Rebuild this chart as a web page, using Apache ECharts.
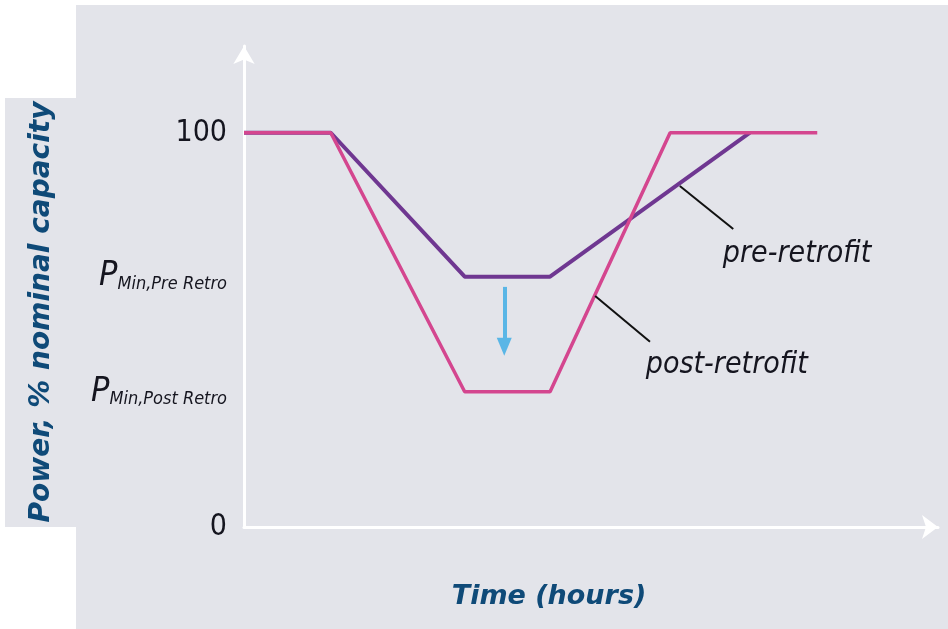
<!DOCTYPE html>
<html><head><meta charset="utf-8">
<script src="https://cdn.jsdelivr.net/npm/echarts@6/dist/echarts.min.js"></script>
<style>html,body{margin:0;padding:0;background:#fff}#c{width:948px;height:629px}</style>
</head><body><div id="c"></div>
<script>
// ---- data ----
const preTime = [0, 12.5, 31.8, 44.1, 72.9];
const prePower = [100, 100, 63.5, 63.5, 100];
const postTime = [0, 12.5, 31.8, 44.1, 61.4, 82.6];
const postPower = [100, 100, 34.3, 34.3, 100, 100];
const yTickValues = [0, 34.3, 63.5, 100];
const yTickMain = ['0', 'P', 'P', '100'];
const yTickSub = ['', 'Min,Post Retro', 'Min,Pre Retro', ''];
const seriesNames = ['pre-retrofit', 'post-retrofit'];
const labelPos = [[69.0, 69.3], [57.9, 41.1]];
const pointerLines = [[[62.8, 86.5], [70.5, 75.6]], [[50.6, 58.6], [58.5, 47.0]]];
const shiftArrow = [[37.5, 60.9], [37.5, 45.7]];
const yTitle = 'Power, % nominal capacity';
const xTitle = 'Time (hours)';

const chart = echarts.init(document.getElementById('c'));
const cond = '"Liberation Sans Narrow","DejaVu Sans Condensed","Roboto Condensed",sans-serif';
const pink = '#d4468f', purple = '#6f3791', navy = '#0f4a78', ink = '#15151f';
const zip = (a, b) => a.map((v, i) => [v, b[i]]);

chart.setOption({
  backgroundColor: '#ffffff',
  animation: false,
  graphic: [
    { type: 'rect', z: -10, shape: { x: 76, y: 5, width: 872, height: 624 }, style: { fill: '#e3e4ea' } },
    { type: 'rect', z: -10, shape: { x: 5, y: 98, width: 71, height: 429 }, style: { fill: '#e3e4ea' } },
    { type: 'text', x: 42, y: 312, rotation: Math.PI / 2,
      style: { text: yTitle, fill: navy, font: 'italic bold 28px "DejaVu Sans",sans-serif', align: 'center', verticalAlign: 'middle' } },
    { type: 'text', x: 549, y: 597,
      style: { text: xTitle, fill: navy, font: 'italic bold 27px "DejaVu Sans",sans-serif', align: 'center', verticalAlign: 'middle' } }
  ],
  grid: { left: 244, right: 10, top: 46, bottom: 102, containLabel: false },
  xAxis: {
    type: 'value', min: 0, max: 100,
    axisLine: { show: true, symbol: ['none', 'arrow'], symbolSize: [18, 16], lineStyle: { color: '#ffffff', width: 3 } },
    axisTick: { show: false }, axisLabel: { show: false }, splitLine: { show: false }
  },
  yAxis: {
    type: 'value', min: 0, max: 122,
    axisLine: { show: true, symbol: ['none', 'arrow'], symbolSize: [16, 18], lineStyle: { color: '#ffffff', width: 3 } },
    axisTick: { show: false }, splitLine: { show: false },
    axisLabel: {
      show: true, margin: 17, customValues: yTickValues,
      formatter: function (v) {
        const i = yTickValues.indexOf(v);
        if (i < 0) return '';
        return yTickSub[i] ? '{p|' + yTickMain[i] + '}{s|' + yTickSub[i] + '}' : '{n|' + yTickMain[i] + '}';
      },
      rich: {
        n: { fontFamily: cond, fontSize: 30, color: ink },
        p: { fontFamily: cond, fontSize: 34, fontStyle: 'italic', color: ink },
        s: { fontFamily: cond, fontSize: 18, fontStyle: 'italic', color: ink, padding: [15, 0, 0, 0] }
      }
    }
  },
  series: [
    { name: seriesNames[1], type: 'line', data: zip(postTime, postPower), symbol: 'none',
      lineStyle: { color: pink, width: 3.5 }, z: 3 },
    { name: seriesNames[0], type: 'line', data: zip(preTime, prePower), symbol: 'none',
      lineStyle: { color: purple, width: 4 }, z: 2,
      markLine: {
        silent: true, symbol: ['none', 'none'], label: { show: false },
        lineStyle: { color: '#111111', width: 2, type: 'solid' },
        data: pointerLines.map(l => [{ coord: l[0] }, { coord: l[1] }])
      } },
    { type: 'line', data: [], markLine: {
        silent: true, symbol: ['none', 'triangle'], symbolSize: [15, 18], label: { show: false },
        lineStyle: { color: '#5ab6e6', width: 4, type: 'solid' },
        data: [[{ coord: shiftArrow[0] }, { coord: shiftArrow[1] }]]
      } },
    { type: 'scatter', symbolSize: 0, itemStyle: { opacity: 1 },
      data: labelPos.map((p, i) => ({ value: p, name: seriesNames[i] })),
      label: { show: true, position: 'right', distance: 0, formatter: '{b}',
        fontFamily: cond, fontStyle: 'italic', fontSize: 30, color: ink } }
  ]
});
</script></body></html>
